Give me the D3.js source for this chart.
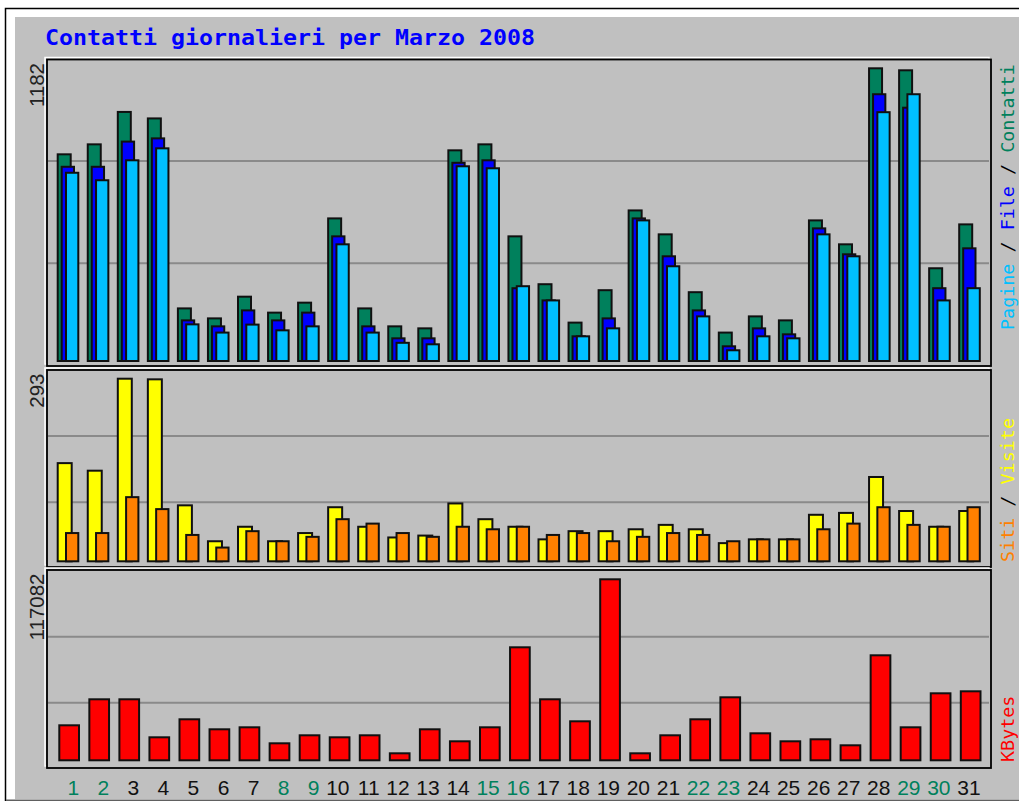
<!DOCTYPE html>
<html>
<head>
<meta charset="utf-8">
<script src="https://cdn.jsdelivr.net/npm/d3@7"></script>
<style>
  html, body { margin: 0; padding: 0; background: #ffffff; }
  svg { display: block; }
</style>
</head>
<body>
<script>
// ---------------- DATA ----------------
const title = "Contatti giornalieri per Marzo 2008";
const days = d3.range(1, 32);
const weekendDays = [1, 2, 8, 9, 15, 16, 22, 23, 29, 30];

// Panel 1: Contatti (hits) / File / Pagine
const hits  = [837, 877, 1007, 981, 219, 179, 266, 202, 242, 580, 219, 147, 139, 853, 877, 508, 316, 162, 292, 612, 516, 284, 122, 187, 171, 572, 476, 1182, 1174, 380, 556];
const files = [787, 787, 888, 901, 171, 147, 211, 171, 202, 508, 147, 99, 99, 803, 813, 300, 251, 107, 179, 580, 428, 211, 67, 139, 115, 540, 436, 1078, 1024, 300, 460];
const pages = [763, 733, 813, 861, 155, 122, 154, 131, 147, 476, 122, 81, 75, 789, 781, 308, 251, 107, 139, 572, 388, 187, 51, 107, 99, 516, 428, 1006, 1078, 251, 300];

// Panel 2: Visite / Siti
const visits = [159, 147, 293, 292, 92, 35, 58, 35, 48, 89, 58, 41, 44, 95, 70, 58, 38, 51, 51, 54, 61, 54, 32, 38, 38, 77, 80, 137, 83, 58, 83];
const sites  = [48, 48, 105, 86, 45, 25, 51, 35, 42, 70, 63, 48, 42, 58, 54, 58, 45, 48, 35, 42, 48, 45, 35, 38, 38, 54, 63, 89, 61, 58, 89];

// Panel 3: KBytes
const kbytes = [23672, 40309, 40309, 15995, 27511, 21114, 22394, 12157, 17275, 15995, 17275, 5758, 21114, 13436, 22394, 73577, 40309, 26232, 117082, 5758, 17275, 27511, 41587, 18554, 13436, 14715, 10877, 68459, 22394, 44146, 45426];

// ---------------- STYLE ----------------
const C = {
  bg: "#c0c0c0", grid: "#8a8a8a", stroke: "#101010",
  hits: "#00805c", files: "#0000ff", pages: "#00c0ff",
  visits: "#ffff00", sites: "#ff8000", kbytes: "#ff0000",
  title: "#0000ff"
};
const W = 1019, H = 801;

const svg = d3.select("body").append("svg").attr("width", W).attr("height", H);

// outer frame
svg.append("rect").attr("x", 0).attr("y", 0).attr("width", W).attr("height", H).attr("fill", "#ffffff");
svg.append("rect").attr("x", 5.5).attr("y", 8.5).attr("width", W + 20).attr("height", H + 20)
  .attr("fill", "#ffffff").attr("stroke", "#000").attr("stroke-width", 1.5);
svg.append("rect").attr("x", 15).attr("y", 17).attr("width", W).attr("height", 782).attr("fill", C.bg);
svg.append("line").attr("x1", 6).attr("x2", W).attr("y1", 800.2).attr("y2", 800.2)
  .attr("stroke", "#606060").attr("stroke-width", 1.6);

// title
svg.append("text").attr("x", 45).attr("y", 45)
  .attr("font-family", "'DejaVu Sans Mono', monospace").attr("font-weight", "bold")
  .attr("font-size", 20.5).attr("fill", C.title)
  .attr("textLength", 490).attr("lengthAdjust", "spacingAndGlyphs")
  .text(title);

// x band scale (one band per day)
const x = d3.scaleBand().domain(days).range([56.7, 56.7 + 31 * 30.05]).padding(0);

const frameL = 47, frameR = 991;
const panels = [
  { top: 59.5, bottom: 366, base: 362, maxY: 67.3, grid: [0.335, 0.682] },
  { top: 370, bottom: 567, base: 562.3, maxY: 377.7, grid: [0.325, 0.684] },
  { top: 570, bottom: 768, base: 761.3, maxY: 578.3, grid: [0.32, 0.681] }
];

function drawFrame(p) {
  svg.append("rect").attr("x", frameL - 2).attr("y", p.top - 2)
    .attr("width", frameR - frameL).attr("height", p.bottom - p.top)
    .attr("fill", "none").attr("stroke", "#ffffff").attr("stroke-width", 1.5);
  svg.append("rect").attr("x", frameL).attr("y", p.top)
    .attr("width", frameR - frameL).attr("height", p.bottom - p.top)
    .attr("fill", C.bg).attr("stroke", "#000").attr("stroke-width", 1.8);
}

function drawGrid(p, y) {
  const maxV = y.domain()[1];
  svg.append("g").selectAll("line").data(p.grid.map(f => f * maxV)).join("line")
    .attr("x1", frameL + 1).attr("x2", frameR - 2)
    .attr("y1", d => y(d)).attr("y2", d => y(d))
    .attr("stroke", C.grid).attr("stroke-width", 2);
}

function drawBars(values, y, off, w, color) {
  svg.append("g").selectAll("rect").data(values).join("rect")
    .attr("x", (d, i) => x(days[i]) + off + 1)
    .attr("width", w - 2)
    .attr("y", d => y(d) + 1)
    .attr("height", d => Math.max(0, y(0) - 1 - (y(d) + 1)))
    .attr("fill", color).attr("stroke", C.stroke).attr("stroke-width", 2);
}

function maxLabel(p, v) {
  svg.append("text")
    .attr("transform", `translate(44,${p.top + 3.5}) rotate(-90)`)
    .attr("text-anchor", "end")
    .attr("font-family", "'Liberation Sans', Arial, sans-serif")
    .attr("font-size", 20.5).attr("fill", "#222")
    .text(v);
}

function sideLabel(yStart, parts) {
  const t = svg.append("text")
    .attr("transform", `translate(1013.5,${yStart}) rotate(-90)`)
    .attr("font-family", "'DejaVu Sans Mono', monospace")
    .attr("font-size", 18.4);
  parts.forEach(pt => t.append("tspan").attr("fill", pt[1]).text(pt[0]));
}

// Panel 1
{
  const p = panels[0];
  const y = d3.scaleLinear().domain([0, d3.max(hits)]).range([p.base, p.maxY]);
  drawFrame(p); drawGrid(p, y);
  drawBars(hits, y, 0, 15, C.hits);
  drawBars(files, y, 4, 14.3, C.files);
  drawBars(pages, y, 8.3, 14.3, C.pages);
  maxLabel(p, d3.max(hits));
  sideLabel(330, [["Pagine", C.pages], [" / ", "#000"], ["File", C.files], [" / ", "#000"], ["Contatti", C.hits]]);
}
// Panel 2
{
  const p = panels[1];
  const y = d3.scaleLinear().domain([0, d3.max(visits)]).range([p.base, p.maxY]);
  drawFrame(p); drawGrid(p, y);
  drawBars(visits, y, 0, 16, C.visits);
  drawBars(sites, y, 8.3, 14.3, C.sites);
  maxLabel(p, d3.max(visits));
  sideLabel(562, [["Siti", C.sites], [" / ", "#000"], ["Visite", C.visits]]);
}
// Panel 3
{
  const p = panels[2];
  const y = d3.scaleLinear().domain([0, d3.max(kbytes)]).range([p.base, p.maxY]);
  drawFrame(p); drawGrid(p, y);
  drawBars(kbytes, y, 1.6, 21.7, C.kbytes);
  maxLabel(p, d3.max(kbytes));
  sideLabel(762, [["KBytes", C.kbytes]]);
}

// day labels
svg.append("g").selectAll("text").data(days).join("text")
  .attr("x", d => x(d) + 22.4).attr("y", 795)
  .attr("text-anchor", "end")
  .attr("font-family", "'Liberation Sans', Arial, sans-serif")
  .attr("font-size", 21)
  .attr("fill", d => weekendDays.includes(d) ? "#00805c" : "#111")
  .text(d => d);
</script>
</body>
</html>
